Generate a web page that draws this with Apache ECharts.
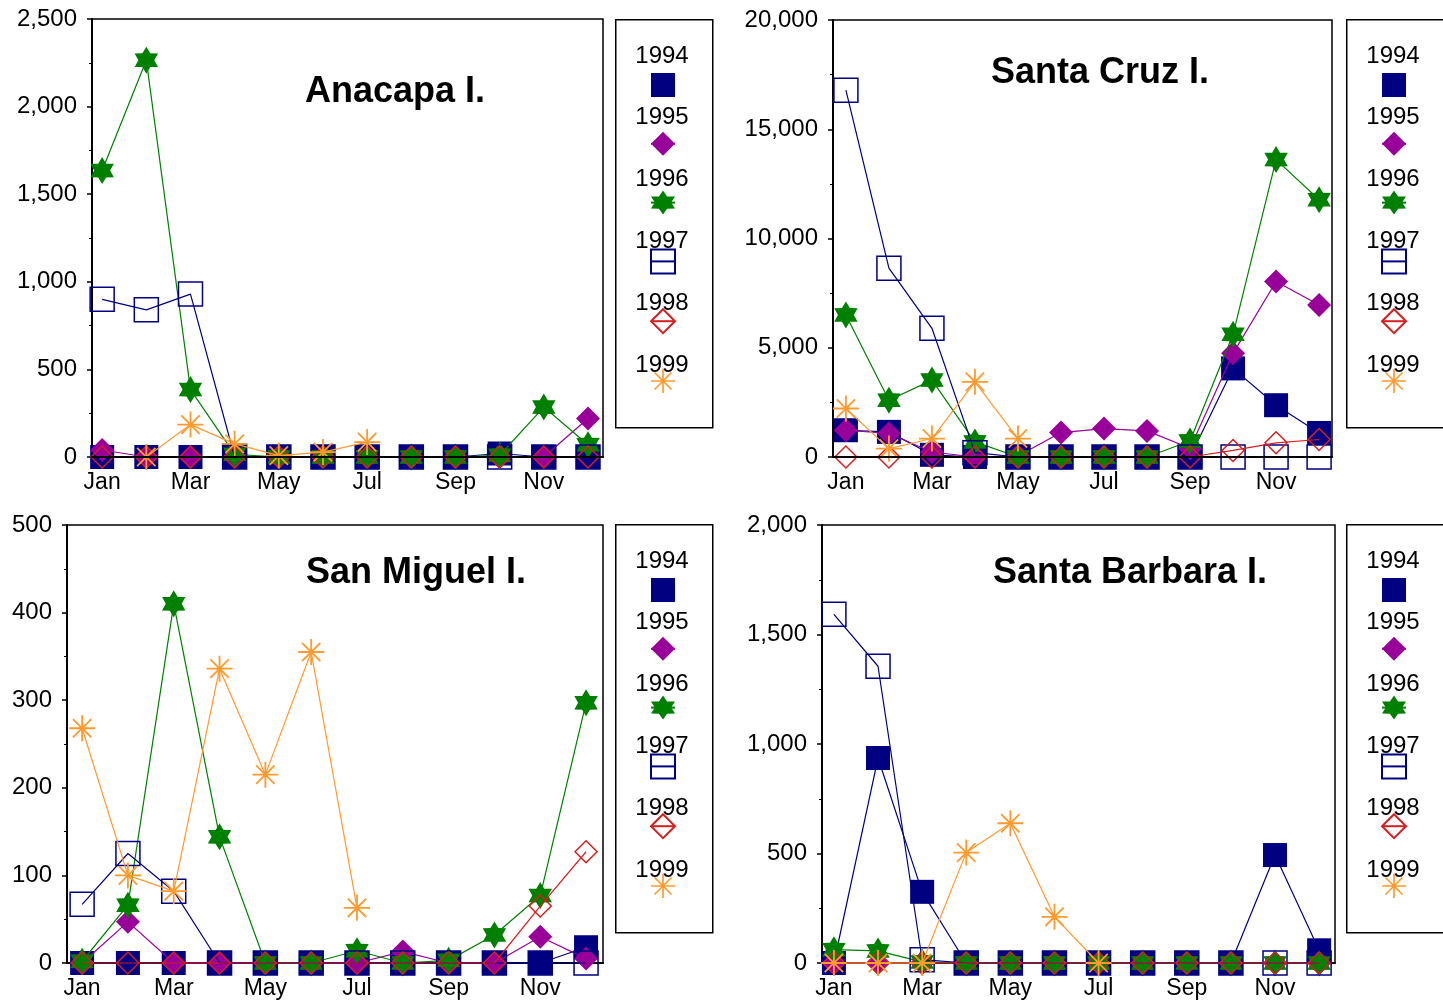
<!DOCTYPE html>
<html>
<head>
<meta charset="utf-8">
<script src="https://cdn.jsdelivr.net/npm/echarts@6/dist/echarts.min.js"></script>
<style>
html,body{margin:0;padding:0;background:#fff;}
#chart{width:1443px;height:1003px;}
</style>
</head>
<body>
<div id="chart"></div>
<script>
// ---------- data ----------
const months = ['Jan','Feb','Mar','Apr','May','Jun','Jul','Aug','Sep','Oct','Nov','Dec'];
const years = ['1994','1995','1996','1997','1998','1999'];
const monthLabelIdx = [0, 2, 4, 6, 8, 10];

// rows: 1994, 1995, 1996, 1997, 1998, 1999 ; columns Jan..Dec
const anacapaValues = [
  [0, 0, 0, 0, 0, 0, 0, 0, 0, 20, 0, 0],
  [40, 0, 0, 0, 0, 0, 0, 0, 0, 0, 0, 220],
  [1635, 2265, 385, 15, 0, 0, 0, 0, 0, 10, 285, 70],
  [900, 840, 930, 0, 0, 0, 0, 0, 0, 0, 0, 0],
  [0, 0, 0, 0, 0, 0, 0, 0, 0, 0, 0, 0],
  [null, 0, 185, 75, 8, 28, 85, null, null, null, null, null]
];
const santaCruzValues = [
  [1225, 1150, 100, 0, 0, 0, 0, 0, 0, 4055, 2370, 1100],
  [1225, 1075, 230, 0, 50, 1120, 1300, 1195, 400, 4745, 8030, 6960],
  [6500, 2600, 3520, 690, 0, 0, 0, 0, 735, 5615, 13610, 11775],
  [16790, 8640, 5890, 200, 0, 0, 0, 0, 0, 0, 0, 0],
  [0, 0, 0, 0, 0, 0, 0, 0, 0, 300, 650, 800],
  [2220, 385, 845, 3440, 845, null, null, null, null, null, null, null]
];
const sanMiguelValues = [
  [0, 0, 0, 0, 0, 0, 0, 0, 0, 0, 0, 18],
  [0, 47, 0, 0, 0, 0, 0, 13, 0, 0, 30, 5],
  [2, 66, 410, 144, 0, 0, 14, 0, 3, 32, 77, 297],
  [67, 125, 82, 0, 0, 0, 0, 0, 0, 0, 0, 0],
  [0, 0, 0, 0, 0, 0, 0, 0, 0, 0, 65, 127],
  [268, 100, 82, 336, 215, 355, 63, null, null, null, null, null]
];
const santaBarbaraValues = [
  [0, 936, 325, 0, 0, 0, 0, 0, 0, 0, 493, 58],
  [0, 0, 0, 0, 0, 0, 0, 0, 0, 0, 0, 0],
  [61, 55, 5, 0, 0, 0, 0, 0, 0, 0, 0, 0],
  [1592, 1355, 15, 0, 0, 0, 0, 0, 0, 0, 0, 0],
  [0, 0, 0, 0, 0, 0, 0, 0, 0, 0, 0, 0],
  [0, 0, 0, 504, 638, 211, 0, null, null, null, null, null]
];

// ---------- styles ----------
const FONT = 'Arial, "Liberation Sans", sans-serif';
const navy = '#000080', purple = '#990099', green = '#008000', red = '#d42020', orange = '#ff9a2e';

function starPath() {
  let d = '';
  for (let k = 0; k < 12; k++) {
    const a = (-90 + k * 30) * Math.PI / 180;
    const r = k % 2 === 0 ? 10 : 5.9;
    d += (k === 0 ? 'M' : 'L') + (r * Math.cos(a)).toFixed(3) + ' ' + (r * Math.sin(a)).toFixed(3) + ' ';
  }
  return 'path://' + d + 'Z';
}
function asteriskPath() {
  let d = '';
  const r = 10, w = 0.7;
  for (let k = 0; k < 4; k++) {
    const a = k * 45 * Math.PI / 180;
    const dx = Math.cos(a), dy = Math.sin(a), px = -Math.sin(a), py = Math.cos(a);
    const pts = [
      [r * dx + w * px, r * dy + w * py],
      [r * dx - w * px, r * dy - w * py],
      [-r * dx - w * px, -r * dy - w * py],
      [-r * dx + w * px, -r * dy + w * py]
    ];
    d += 'M' + pts.map(p => p[0].toFixed(3) + ' ' + p[1].toFixed(3)).join(' L') + ' Z ';
  }
  return 'path://' + d;
}
const STAR = starPath();
const ASTER = asteriskPath();

const seriesStyles = [
  { symbol: 'rect', size: 24, color: navy, fill: navy, border: 0 },
  { symbol: 'diamond', size: 24, color: purple, fill: purple, border: 0 },
  { symbol: STAR, size: 27, color: green, fill: green, border: 0 },
  { symbol: 'rect', size: 24, color: navy, fill: 'rgba(255,255,255,0)', border: 1.5 },
  { symbol: 'diamond', size: 22, color: red, fill: 'rgba(255,255,255,0)', border: 1.5 },
  { symbol: ASTER, size: 26, color: orange, fill: orange, border: 0 }
];

const panels = [
  { title: 'Anacapa I.', values: anacapaValues, grid: { left: 92, top: 19, width: 511, height: 438 },
    xMin: -0.23, xMax: 11.34, yMax: 2500, yInt: 500, titleX: 395, titleY: 92, legendX: 662, legendTop: 19, axisOnTop: true },
  { title: 'Santa Cruz I.', values: santaCruzValues, grid: { left: 833, top: 20, width: 499, height: 437 },
    xMin: -0.30, xMax: 11.30, yMax: 20000, yInt: 5000, titleX: 1100, titleY: 73, legendX: 1393, legendTop: 19, axisOnTop: true },
  { title: 'San Miguel I.', values: sanMiguelValues, grid: { left: 67, top: 525, width: 536, height: 438 },
    xMin: -0.33, xMax: 11.37, yMax: 500, yInt: 100, titleX: 416, titleY: 573, legendX: 662, legendTop: 524, axisOnTop: false },
  { title: 'Santa Barbara I.', values: santaBarbaraValues, grid: { left: 822, top: 525, width: 513, height: 438 },
    xMin: -0.27, xMax: 11.36, yMax: 2000, yInt: 500, titleX: 1130, titleY: 573, legendX: 1393, legendTop: 524, axisOnTop: false }
];

// ---------- build option ----------
const grids = [], xAxes = [], yAxes = [], series = [], legends = [], graphics = [];

panels.forEach((p, gi) => {
  grids.push(Object.assign({ show: true, borderColor: '#000', borderWidth: 1.5, backgroundColor: 'transparent', containLabel: false }, p.grid));
  xAxes.push({
    type: 'value', gridIndex: gi, min: p.xMin, max: p.xMax, z: p.axisOnTop ? 10 : 0,
    axisLine: { show: true, onZero: false, lineStyle: { color: '#000', width: 2 } },
    axisTick: { show: false },
    splitLine: { show: false },
    axisLabel: {
      customValues: monthLabelIdx, margin: 14, color: '#000', fontFamily: FONT, fontSize: 23,
      formatter: v => months[Math.round(v)] || ''
    }
  });
  yAxes.push({
    type: 'value', gridIndex: gi, min: 0, max: p.yMax, interval: p.yInt,
    axisLine: { show: true, onZero: false, lineStyle: { color: '#000', width: 2 } },
    axisTick: { show: true, length: 5, lineStyle: { color: '#000', width: 1.5 } },
    minorTick: { show: true, splitNumber: 2, length: 3, lineStyle: { color: '#000', width: 1 } },
    splitLine: { show: false },
    axisLabel: { margin: 15, color: '#000', fontFamily: FONT, fontSize: 24,
      formatter: v => Number(v).toLocaleString('en-US') }
  });

  years.forEach((yr, si) => {
    const st = seriesStyles[si];
    series.push({
      type: 'line', name: yr, xAxisIndex: gi, yAxisIndex: gi,
      data: p.values[si].map((v, i) => [i, v === null ? '-' : v]),
      symbol: st.symbol, symbolSize: st.size, symbolKeepAspect: true,
      showAllSymbol: true, clip: false, connectNulls: false,
      lineStyle: { color: st.color, width: 1.2 },
      itemStyle: { color: st.fill, borderColor: st.color, borderWidth: st.border },
      emphasis: { disabled: true },
      z: 2 + si * 0.01,
      animation: false
    });
  });

  legends.push({
    orient: 'vertical', left: p.legendX - 12, top: p.legendTop + 66 - 15,
    itemWidth: 24, itemHeight: 30, itemGap: 31.8, padding: 0,
    selectedMode: false, formatter: () => '',
    data: years.map((yr, si) => si === 5 ? { name: yr, icon: ASTER } : { name: yr })
  });

  graphics.push({
    type: 'rect', left: p.legendX - 47, top: p.legendTop,
    shape: { width: 97, height: 408 },
    style: { fill: 'transparent', stroke: '#000', lineWidth: 1.5 }, z: 1
  });
  years.forEach((yr, si) => {
    graphics.push({
      type: 'text', x: p.legendX, y: p.legendTop + 37 + si * 61.8,
      style: { text: yr, fill: '#000', font: '24px ' + FONT, textAlign: 'center', textVerticalAlign: 'middle' }
    });
  });
  graphics.push({
    type: 'text', x: p.titleX, y: p.titleY,
    style: { text: p.title, fill: '#000', font: 'bold 36px ' + FONT, textAlign: 'center', textVerticalAlign: 'middle' }
  });
});

const chart = echarts.init(document.getElementById('chart'), null, { renderer: 'canvas' });
chart.setOption({
  animation: false,
  backgroundColor: '#fff',
  grid: grids, xAxis: xAxes, yAxis: yAxes, series: series, legend: legends,
  graphic: graphics
});
</script>
</body>
</html>
